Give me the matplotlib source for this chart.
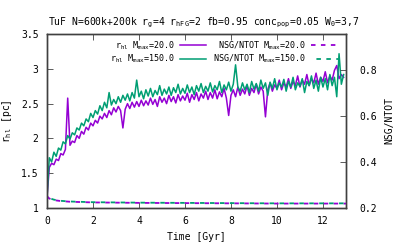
import matplotlib
matplotlib.use("Agg")
import matplotlib.pyplot as plt
import numpy as np

plt.rcParams['font.family'] = ['DejaVu Sans Mono']
plt.rcParams['mathtext.fontset'] = 'custom'
plt.rcParams['mathtext.rm'] = 'DejaVu Sans Mono'
plt.rcParams['mathtext.default'] = 'rm'

# time grid (Gyr), 0.1 Gyr sampling
time = np.round(np.arange(0, 13.0, 0.1), 1)

# r_hl [pc], M_max = 150
rhl_150 = [1.15, 1.72, 1.66, 1.80, 1.74, 1.86, 1.83, 1.95, 1.92, 2.04,
           1.99, 2.08, 2.05, 2.15, 2.12, 2.22, 2.18, 2.28, 2.24, 2.36,
           2.30, 2.40, 2.35, 2.47, 2.40, 2.52, 2.44, 2.66, 2.48, 2.56,
           2.50, 2.60, 2.52, 2.62, 2.55, 2.64, 2.54, 2.66, 2.58, 2.84,
           2.60, 2.68, 2.57, 2.70, 2.61, 2.72, 2.60, 2.69, 2.63, 2.76,
           2.62, 2.71, 2.64, 2.74, 2.62, 2.73, 2.66, 2.78, 2.64, 2.72,
           2.65, 2.77, 2.66, 2.74, 2.63, 2.76, 2.68, 2.79, 2.66, 2.75,
           2.68, 2.80, 2.67, 2.76, 2.70, 2.82, 2.66, 2.77, 2.70, 2.81,
           2.68, 2.78, 3.06, 2.74, 2.68, 2.80, 2.70, 2.78, 2.66, 2.82,
           2.71, 2.79, 2.68, 2.84, 2.72, 2.80, 2.62, 2.81, 2.72, 2.86,
           2.70, 2.80, 2.74, 2.85, 2.68, 2.82, 2.74, 2.88, 2.70, 2.80,
           2.75, 2.86, 2.66, 2.82, 2.76, 2.90, 2.72, 2.84, 2.68, 2.88,
           2.74, 2.86, 2.70, 2.92, 2.76, 2.88, 2.60, 3.22, 2.78, 2.92]

# r_hl [pc], M_max = 20
rhl_20 = [1.15, 1.58, 1.64, 1.62, 1.70, 1.68, 1.78, 1.76, 1.84, 2.58,
          1.90, 1.96, 1.94, 2.04, 2.00, 2.10, 2.06, 2.16, 2.12, 2.22,
          2.18, 2.26, 2.22, 2.32, 2.28, 2.36, 2.30, 2.40, 2.34, 2.44,
          2.38, 2.46, 2.40, 2.15, 2.42, 2.50, 2.43, 2.52, 2.45, 2.53,
          2.46, 2.55, 2.47, 2.54, 2.48, 2.58, 2.49, 2.56, 2.46, 2.60,
          2.52, 2.58, 2.50, 2.62, 2.53, 2.60, 2.51, 2.63, 2.54, 2.61,
          2.55, 2.65, 2.52, 2.63, 2.56, 2.66, 2.54, 2.64, 2.58, 2.68,
          2.56, 2.66, 2.58, 2.70, 2.57, 2.67, 2.60, 2.72, 2.58, 2.33,
          2.62, 2.70, 2.60, 2.74, 2.62, 2.71, 2.64, 2.76, 2.62, 2.72,
          2.66, 2.78, 2.64, 2.74, 2.68, 2.31, 2.70, 2.80, 2.68, 2.77,
          2.72, 2.84, 2.70, 2.80, 2.74, 2.86, 2.72, 2.82, 2.76, 2.90,
          2.74, 2.84, 2.78, 2.92, 2.76, 2.86, 2.80, 2.94, 2.78, 2.88,
          2.82, 2.96, 2.80, 2.90, 2.84, 2.98, 3.05, 2.86, 2.92, 2.88]

# NSG/NTOT
nsg_time = [0.0, 0.1, 0.3, 0.6, 1.0, 2.0, 4.0, 6.0, 8.0, 10.0, 12.0, 13.0]
nsg_20 = [0.250, 0.240, 0.233, 0.229, 0.226, 0.223, 0.221, 0.220, 0.219, 0.218, 0.218, 0.218]
nsg_150 = [0.252, 0.242, 0.235, 0.230, 0.227, 0.224, 0.222, 0.221, 0.220, 0.219, 0.219, 0.219]

purple = '#9400d3'
green = '#009e73'
fs = 7

fig = plt.figure(figsize=(4.07, 2.44), dpi=100)
ax = fig.add_axes([0.1155, 0.1488, 0.7345, 0.7106])
ax2 = ax.twinx()

l1, = ax.plot(time, rhl_20, color=purple, lw=1.1, label=r'r$_{hl}$ M$_{max}$=20.0')
l2, = ax.plot(time, rhl_150, color=green, lw=1.1, label=r'r$_{hl}$ M$_{max}$=150.0')
l3, = ax2.plot(nsg_time, nsg_20, color=purple, lw=1.3, ls=(0, (2.5, 3)),
               label=r'NSG/NTOT M$_{max}$=20.0')
l4, = ax2.plot(nsg_time, nsg_150, color=green, lw=1.3, ls=(2.5, (2.5, 3)),
               label=r'NSG/NTOT M$_{max}$=150.0')

ax.set_xlim(0, 13)
ax.set_ylim(1, 3.5)
ax2.set_ylim(0.2, 0.957)
ax.set_xticks([0, 2, 4, 6, 8, 10, 12])
ax.set_yticks([1, 1.5, 2, 2.5, 3, 3.5])
ax.set_yticklabels(['1', '1.5', '2', '2.5', '3', '3.5'])
ax2.set_yticks([0.2, 0.4, 0.6, 0.8])
ax2.set_yticklabels(['0.2', '0.4', '0.6', '0.8'])

ax.tick_params(axis='x', direction='in', top=True, length=4, width=0.6,
               labelsize=fs, pad=6, colors='#404040', labelcolor='black')
ax.tick_params(axis='y', direction='in', length=4, width=0.6,
               labelsize=fs, pad=6, colors='#404040', labelcolor='black')
ax2.tick_params(axis='y', direction='in', length=4, width=0.6,
                labelsize=fs, pad=10, colors='#404040', labelcolor='black')
for a in (ax, ax2):
    for s in a.spines.values():
        s.set_color('#404040')
        s.set_linewidth(1.0)

ax.set_xlabel('Time [Gyr]', fontsize=fs, labelpad=4)
ax.set_ylabel(r'r$_{hl}$ [pc]', fontsize=fs)
ax.yaxis.set_label_coords(-0.112, 0.5)
ax2.set_ylabel('NSG/NTOT', fontsize=fs)
ax2.yaxis.set_label_coords(1.128, 0.5)

fig.text(0.5, 0.905, r'TuF N=600k+200k r$_g$=4 r$_{hFG}$=2 fb=0.95 '
         r'conc$_{pop}$=0.05 W$_0$=3,7', ha='center', va='center', fontsize=fs)

ax2.legend(handles=[l1, l2, l3, l4], ncol=2, markerfirst=False, frameon=False,
           loc='upper right', bbox_to_anchor=(0.995, 1.01), fontsize=6,
           handlelength=3.2, columnspacing=0.8, labelspacing=0.15,
           handletextpad=0.6, borderpad=0.3)

fig.savefig('out.png', dpi=100)
